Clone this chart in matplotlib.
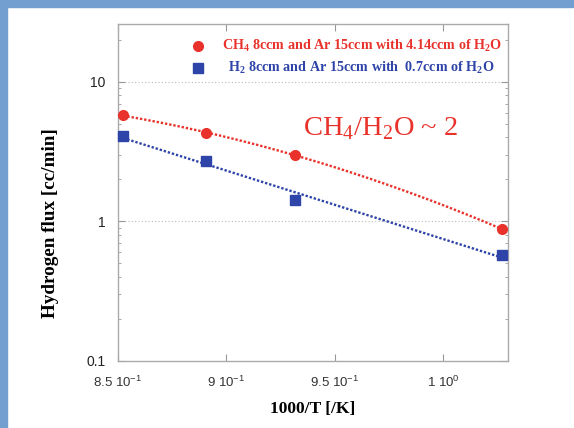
import numpy as np
import matplotlib
matplotlib.use('Agg')
import matplotlib.pyplot as plt
from matplotlib.patches import Rectangle
from matplotlib.ticker import FixedLocator, LogLocator, NullFormatter

# data
inv_T = [0.8524, 0.8906, 0.9319, 1.0273]
ch4_flux = [5.76, 4.30, 3.00, 0.88]
h2_flux = [4.09, 2.69, 1.43, 0.576]

x_ticks = [0.85, 0.90, 0.95, 1.00]
x_tick_labels = ['8.5 10$^{\\mathsf{-1}}$', '9 10$^{\\mathsf{-1}}$',
                 '9.5 10$^{\\mathsf{-1}}$', '1 10$^{\\mathsf{0}}$']
y_ticks = [0.1, 1, 10]
y_tick_labels = ['0.1', '1', '10']

ch4_label = 'CH$_\\mathbf{4}$ 8ccm and Ar 15ccm with 4.14ccm of H$_\\mathbf{2}$O'
h2_label = 'H$_\\mathbf{2}$ 8ccm and Ar 15ccm with  0.7ccm of H$_\\mathbf{2}$O'

red = '#e8322b'
blue = '#2f44a8'

plt.rcParams['font.family'] = ['Liberation Sans', 'DejaVu Sans']
plt.rcParams['mathtext.fontset'] = 'custom'
plt.rcParams['mathtext.rm'] = 'Liberation Serif'
plt.rcParams['mathtext.bf'] = 'Liberation Serif:bold'
plt.rcParams['mathtext.sf'] = 'Liberation Sans'

fig = plt.figure(figsize=(5.74, 4.28), dpi=100)
# blue frame strips on the left and top
fig.patches.append(Rectangle((0, 0), 7 / 574, 1, transform=fig.transFigure,
                             color='#739fd0', zorder=0))
fig.patches.append(Rectangle((0, 1 - 7 / 428), 1, 7 / 428, transform=fig.transFigure,
                             color='#739fd0', zorder=0))

ax = fig.add_axes([118 / 574, 67 / 428, 390 / 574, 337 / 428])
ax.set_yscale('log')
ax.set_xlim(0.85, 1.03)
ax.set_ylim(0.1, 26)

# fit curves through the points (log scale)
xs = np.linspace(inv_T[0], inv_T[-1], 200)
c_red = np.polyfit(inv_T, np.log10(ch4_flux), 2)
c_blue = np.polyfit(inv_T, np.log10(h2_flux), 1)
ax.plot(xs, 10 ** np.polyval(c_red, xs), color=red, lw=1.7, ls=(0, (1, 0.8)))
ax.plot(xs, 10 ** np.polyval(c_blue, xs), color=blue, lw=1.7, ls=(0, (1, 0.8)))

ax.plot(inv_T, ch4_flux, 'o', color=red, ms=7, mec=red, clip_on=False, zorder=5)
ax.plot(inv_T, h2_flux, 's', color=blue, ms=7.5, mec=blue, clip_on=False, zorder=5)

# legend drawn by hand to keep its layout
ax.plot([0.8868], [18.0], 'o', color=red, ms=7)
ax.plot([0.8868], [12.6], 's', color=blue, ms=7)
ax.text(0.8979, 18.0, ch4_label, color=red, fontsize=10.2, fontweight='bold',
        family='Liberation Serif', va='center')
ax.text(0.9007, 12.6, h2_label, color=blue, fontsize=10.2, fontweight='bold',
        family='Liberation Serif', va='center')

ax.text(0.9355, 4.6, 'CH$_\\mathrm{4}$/H$_\\mathrm{2}$O ~ 2', color=red, fontsize=20.5,
        family='Liberation Serif', va='center')

for v in [1, 10]:
    ax.axhline(v, color='#bbbbbb', lw=0.8, ls=(0, (1, 2)), zorder=0)

ax.xaxis.set_major_locator(FixedLocator(x_ticks))
ax.set_xticklabels(x_tick_labels, fontsize=9.5, color='#333333')
ax.yaxis.set_major_locator(FixedLocator(y_ticks))
ax.set_yticklabels(y_tick_labels, fontsize=10, color='#222222')
ax.yaxis.set_minor_locator(LogLocator(base=10, subs=np.arange(2, 10)))
ax.yaxis.set_minor_formatter(NullFormatter())
ax.tick_params(which='both', direction='in', top=True, right=True, color='#999999')
ax.tick_params(which='major', length=5)
ax.tick_params(axis='x', which='major', pad=10)
ax.tick_params(axis='y', which='major', pad=9)
ax.tick_params(which='minor', length=2.5)
for s in ax.spines.values():
    s.set_color('#aaaaaa')
    s.set_linewidth(1)

ax.set_xlabel('1000/T [/K]', family='Liberation Serif', fontweight='bold',
              fontsize=12.6, labelpad=8)
ax.set_ylabel('Hydrogen flux [cc/min]', family='Liberation Serif', fontweight='bold',
              fontsize=13.8)
ax.yaxis.set_label_coords(-0.152, 0.41)

fig.savefig('out.png', dpi=100)
